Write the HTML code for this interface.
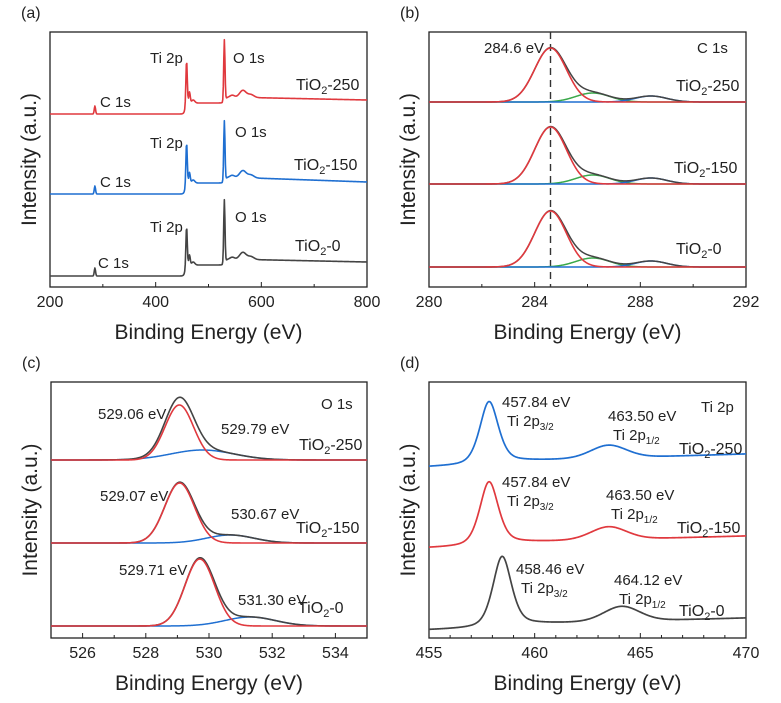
<!DOCTYPE html>
<html><head><meta charset="utf-8"><style>
html,body{margin:0;padding:0;background:#fff}
svg{display:block;font-family:"Liberation Sans",Arial,sans-serif}
</style></head><body>
<svg id="s" width="781" height="703" viewBox="0 0 781 703" xmlns="http://www.w3.org/2000/svg"></svg>
<script>
const S=document.getElementById('s');let h='';
const RED='#e0393e',BLUE='#1f6fd1',GREY='#444',GREEN='#3aa84a';
function g(E,c,a,s){return a*Math.exp(-Math.pow((E-c)/s,2)/2);}
function lz(E,c,a,w){return a/(1+Math.pow((E-c)/w,2));}
function path(x0,x1,e0,e1,f,col,w){let d='';const n=600;for(let i=0;i<=n;i++){const E=e0+(e1-e0)*i/n;const x=x0+(x1-x0)*i/n;d+=(i?'L':'M')+x.toFixed(2)+' '+f(E).toFixed(2);}h+=`<path d="${d}" fill="none" stroke="${col}" stroke-width="${w||1.6}" stroke-linejoin="round"/>`;}
function txt(x,y,t,sz,anch){h+=`<text x="${x}" y="${y}" font-size="${sz}" fill="#222" text-anchor="${anch||'start'}">${t}</text>`;}
function axes(x0,y0,x1,y1,e0,e1,major,minor,lab,m0){
 h+=`<rect x="${x0}" y="${y0}" width="${x1-x0}" height="${y1-y0}" fill="none" stroke="#222" stroke-width="1.3"/>`;
 if(m0===undefined)m0=e0;
 for(let e=e0;e<=e1+1e-9;e+=minor){const x=x0+(x1-x0)*(e-e0)/(e1-e0);const r=(e-m0)/major;const isM=Math.abs(r-Math.round(r))<1e-6;h+=`<line x1="${x}" y1="${y1}" x2="${x}" y2="${y1-(isM?5:3)}" stroke="#222" stroke-width="1"/>`;if(isM)txt(x,y1+20,Math.round(e),16,'middle');}
 txt((x0+x1)/2,y1+52,'Binding Energy (eV)',21,'middle');
 const cy=(y0+y1)/2;h+=`<text x="${x0-14}" y="${cy}" font-size="21" fill="#222" text-anchor="middle" transform="rotate(-90 ${x0-14} ${cy})">Intensity (a.u.)</text>`;
 txt(x0-29,y0-14,lab,16);
}
function tio(x,y,n,anch){h+=`<text x="${x}" y="${y}" font-size="16" fill="#222" text-anchor="${anch||'start'}">TiO<tspan font-size="11" dy="4">2</tspan><tspan dy="-4">-${n}</tspan></text>`;}
// Panel a
axes(50,32,367,287,200,800,200,100,'(a)');
function survey(b,end,ti,o,c){return E=>{let y=b;
 const s1=1/(1+Math.exp(-(E-456)/1.5)), s2=1/(1+Math.exp(-(E-531)/2));
 y-= 11*s1 + 6*s2;
 if(E>531){y+=(E-531)/269*((b-17)-end)*-1;}
 y-=g(E,285,c,1.2);y-=g(E,458.5,ti,1.3)+g(E,464,ti*0.25,1.4)+g(E,471,3,3);y-=g(E,530,o,1.2)+g(E,565,7,6)+g(E,580,3,6)+g(E,545,2,4);return y;};}
path(50,367,200,800,survey(114,100,44,61,8),RED,1.6);
path(50,367,200,800,survey(194,182,42,60,8),BLUE,1.6);
path(50,367,200,800,survey(276,262,40,63,8),GREY,1.6);
txt(100,107,'C 1s',15);txt(100,187,'C 1s',15);txt(98,268,'C 1s',15);
txt(150,63,'Ti 2p',15);txt(150,148,'Ti 2p',15);txt(150,232,'Ti 2p',15);
txt(233,63,'O 1s',15);txt(235,137,'O 1s',15);txt(235,222,'O 1s',15);
tio(296,90,'250');tio(294,170,'150');tio(295,251,'0');
// Panel b
axes(429,32,746,287,280,292,4,2,'(b)');
h+=`<line x1="550.5" y1="32" x2="550.5" y2="287" stroke="#333" stroke-width="1.4" stroke-dasharray="7,5"/>`;
function cset(b,rh,gh,bh){const r=E=>b-g(E,284.6,rh,0.6),gr=E=>b-g(E,286.2,gh,0.65),bl=E=>b-g(E,288.4,bh,0.6),env=E=>b-g(E,284.6,rh,0.6)-g(E,286.2,gh,0.65)-g(E,288.4,bh,0.6);
 path(429,746,280,292,gr,GREEN,1.5);path(429,746,280,292,bl,BLUE,1.5);path(429,746,280,292,env,GREY,1.5);path(429,746,280,292,r,RED,1.6);}
cset(102,54,9,6);cset(184,57,9,6);cset(267,56,9,6);
txt(484,53,'284.6 eV',15);txt(697,53,'C 1s',15);tio(676,91,'250');tio(674,173,'150');tio(676,254,'0');
// Panel c
axes(51,382,367,638,525,535,2,1,'(c)',526);
function oset(b,rc,rh,bc,bh,bs,rs){const r=E=>b-g(E,rc,rh,rs),bl=E=>b-g(E,bc,bh,bs),env=E=>b-g(E,rc,rh,rs)-g(E,bc,bh,bs);
 path(51,367,525,535,bl,BLUE,1.5);path(51,367,525,535,env,GREY,1.6);path(51,367,525,535,r,RED,1.6);}
oset(460,529.06,55,529.79,10,1.0,0.45);oset(543,529.07,60,530.67,8,0.75,0.47);oset(626,529.71,67,531.3,9,0.8,0.47);
txt(98,419,'529.06 eV',15);txt(221,434,'529.79 eV',15);tio(299,450,'250');
txt(100,501,'529.07 eV',15);txt(231,519,'530.67 eV',15);tio(296,533,'150');
txt(119,575,'529.71 eV',15);txt(238,605,'531.30 eV',15);tio(298,613,'0');
txt(321,409,'O 1s',15);
// Panel d
axes(429,382,746,638,455,470,5,1,'(d)');
function tset(bl,br,c1,h1,c2,h2){return E=>{const t=(E-455)/15;let y=bl+(br-bl)*t;y-=lz(E,c1,h1*0.45,0.5)+g(E,c1,h1*0.55,0.45);y-=g(E,c2,h2,0.85)+lz(E,c2,2,1);y-=3/(1+Math.exp(-(E-c1)/0.4));return y;};}
path(429,746,455,470,tset(467,457,457.84,62,463.5,11),BLUE,1.7);
path(429,746,455,470,tset(548,539,457.84,63,463.5,11),RED,1.7);
path(429,746,455,470,tset(630,621,458.46,70,464.12,13),GREY,1.7);
function tlab(x,y,ev,x2,fr){txt(x,y,ev,15);h+=`<text x="${x2}" y="${y+19}" font-size="15" fill="#222">Ti 2p<tspan font-size="10" dy="4">${fr}</tspan></text>`;}
tlab(502,407,'457.84 eV',507,'3/2');tlab(608,421,'463.50 eV',613,'1/2');
tlab(502,487,'457.84 eV',507,'3/2');tlab(606,500,'463.50 eV',611,'1/2');
tlab(516,574,'458.46 eV',521,'3/2');tlab(614,585,'464.12 eV',619,'1/2');
txt(701,412,'Ti 2p',15);tio(679,454,'250');tio(677,533,'150');tio(679,616,'0');
S.innerHTML=h;
</script>
</body></html>
